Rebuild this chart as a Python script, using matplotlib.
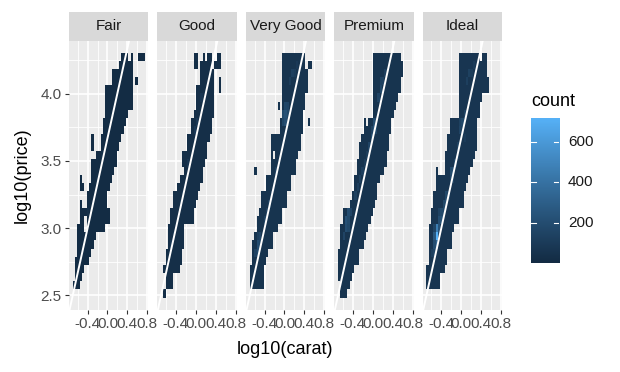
import numpy as np
import matplotlib
matplotlib.use("Agg")
import matplotlib.pyplot as plt
from matplotlib.colors import ListedColormap, Normalize

plt.rcParams['font.family'] = ['Liberation Sans', 'DejaVu Sans']

# ---------------- data ----------------
cuts = ["Fair", "Good", "Very Good", "Premium", "Ideal"]
x_ticks = [-0.4, 0.0, 0.4, 0.8]
x_tick_labels = ["-0.4", "0.0", "0.4", "0.8"]
x_minor = [-0.6, -0.2, 0.2, 0.6]
y_ticks = [2.5, 3.0, 3.5, 4.0]
y_tick_labels = ["2.5", "3.0", "3.5", "4.0"]
y_minor = [2.75, 3.25, 3.75, 4.25]
legend_ticks = [200, 400, 600]
legend_labels = ["200", "400", "600"]
count_range = [1, 717]

x_bin_start, x_bin_width, n_xbins = -0.70, 0.04667, 31
y_bin_start, y_bin_width, n_ybins = 2.484, 0.0607, 30
line_intercept, line_slope = 3.669, 1.676

# occupied bins: for each y-bin row (0 = bottom) a list of (first, last) x-bin runs
fair_rows = [
    [], [(0, 2)], [(1, 3)], [(1, 4)], [(1, 6)], [(2, 7)], [(2, 8)], [(2, 9)],
    [(2, 4), (6, 13)], [(3, 4), (6, 15)], [(3, 15)], [(3, 3), (6, 14)], [(6, 14)],
    [(3, 4), (7, 15)], [(3, 3), (8, 16)], [(8, 17)], [(8, 18)], [(10, 18)],
    [(8, 8), (12, 19)], [(8, 8), (12, 20)], [(13, 21)], [(13, 22)], [(14, 23)],
    [(14, 25)], [(14, 25)], [(14, 25)], [(17, 25), (27, 27)], [(17, 25)],
    [(20, 25)], [(21, 23), (25, 25), (28, 30)],
]
good_rows = [
    [(1, 1)], [(2, 4)], [(2, 4)], [(1, 7)], [(2, 8)], [(2, 8)], [(3, 9)], [(3, 9)],
    [(3, 9)], [(4, 13)], [(4, 13)], [(5, 14)], [(5, 15)], [(7, 16)], [(8, 17)],
    [(10, 17)], [(9, 18)], [(9, 19)], [(11, 19)], [(11, 20)], [(13, 21)], [(13, 21)],
    [(14, 22)], [(15, 22)], [(15, 22)], [(15, 22), (25, 25)], [(17, 22), (25, 25)],
    [(17, 22)], [(14, 15), (17, 21), (23, 25)], [(14, 15), (18, 18), (20, 21), (24, 25)],
]
verygood_rows = [
    [], [(0, 5)], [(0, 5)], [(0, 5)], [(1, 6)], [(1, 7)], [(1, 9)], [(2, 9)],
    [(3, 11)], [(3, 13)], [(4, 13)], [(5, 15)], [(5, 15)], [(7, 17)], [(7, 17)],
    [(2, 2), (9, 19)], [(9, 19)], [(9, 9), (11, 20)], [(9, 21)], [(9, 21)],
    [(13, 22)], [(13, 22), (25, 25)], [(14, 22)], [(12, 12), (14, 23)], [(14, 23)],
    [(14, 24)], [(14, 24)], [(14, 24)], [(14, 23), (25, 26)], [(14, 23)],
]
premium_rows = [
    [(1, 3)], [(1, 4)], [(0, 5)], [(0, 6)], [(0, 8)], [(0, 8)], [(1, 10)], [(1, 11)],
    [(1, 12)], [(2, 13)], [(2, 14)], [(5, 15)], [(6, 16)], [(7, 16)], [(7, 17)],
    [(8, 19)], [(8, 20)], [(9, 20)], [(9, 21)], [(10, 21)], [(11, 22)],
    [(11, 11), (13, 22)], [(15, 23)], [(15, 24)], [(15, 25)], [(15, 26)], [(15, 26)],
    [(15, 27)], [(15, 27)], [(15, 26)],
]
ideal_rows = [
    [], [(0, 5)], [(0, 5)], [(0, 7)], [(1, 8)], [(1, 8)], [(1, 10)], [(1, 10)],
    [(1, 11)], [(2, 13)], [(2, 13)], [(3, 15)], [(3, 15)], [(4, 16)], [(4, 17)],
    [(4, 4), (8, 18)], [(8, 19)], [(8, 20)], [(9, 21)], [(9, 21)], [(10, 21)],
    [(10, 21)], [(14, 22)], [(14, 22)], [(14, 23)], [(14, 26)], [(14, 26)],
    [(14, 25)], [(14, 25)], [(14, 22), (24, 25)],
]

# typical count of an occupied bin, and the denser bins (x-bin, y-bin, count)
base_counts = [8, 25, 55, 55, 65]
fair_hot = [(10, 14, 30), (12, 17, 30), (6, 10, 30)]
good_hot = [(15, 21, 80), (14, 20, 90), (4, 6, 80), (5, 7, 70), (8, 11, 80),
            (9, 12, 70), (17, 24, 70), (11, 16, 70)]
verygood_hot = [(14, 21, 160), (15, 21, 200), (16, 21, 150), (14, 22, 180), (15, 22, 220),
                (16, 22, 170), (15, 23, 160), (16, 23, 150),
                (2, 5, 140), (3, 5, 180), (3, 6, 200), (4, 6, 170), (4, 7, 150), (3, 7, 120),
                (17, 26, 110), (18, 27, 120), (19, 27, 100), (20, 28, 90),
                (8, 11, 130), (9, 12, 120), (10, 13, 110), (11, 15, 120), (12, 16, 110),
                (6, 9, 130), (7, 10, 120)]
premium_hot = [(13, 18, 150), (14, 19, 180), (15, 20, 220), (16, 20, 160), (15, 21, 200),
               (16, 21, 180), (14, 20, 140),
               (17, 24, 150), (18, 25, 170), (19, 26, 140), (20, 27, 120), (18, 26, 130),
               (2, 7, 150), (3, 8, 200), (4, 8, 170), (3, 9, 220), (4, 9, 180), (4, 10, 200),
               (5, 10, 150),
               (7, 12, 130), (8, 13, 120), (9, 14, 130), (10, 15, 120), (11, 16, 110),
               (12, 17, 110)]
ideal_hot = [(4, 7, 717), (4, 8, 460), (4, 6, 330), (3, 7, 260), (3, 6, 200), (5, 8, 230),
             (5, 7, 190), (3, 5, 150), (2, 5, 120), (5, 9, 200), (6, 9, 220), (6, 10, 180),
             (7, 10, 160), (5, 10, 140), (7, 11, 170), (8, 11, 200), (8, 12, 170),
             (9, 12, 150), (3, 8, 150),
             (10, 15, 180), (11, 15, 200), (12, 16, 160), (10, 14, 150), (11, 14, 140),
             (14, 20, 150), (15, 21, 170), (16, 22, 140), (14, 21, 130), (15, 20, 120),
             (17, 26, 120), (18, 27, 130), (19, 27, 110), (20, 28, 100),
             (13, 18, 130), (13, 17, 120), (16, 19, 100)]

facet_rows = [fair_rows, good_rows, verygood_rows, premium_rows, ideal_rows]
facet_hot = [fair_hot, good_hot, verygood_hot, premium_hot, ideal_hot]

# ---------------- colour scale (ggplot default, Lab interpolation) ----------------
M = np.array([[0.4124564, 0.3575761, 0.1804375],
              [0.2126729, 0.7151522, 0.0721750],
              [0.0193339, 0.1191920, 0.9503041]])
WP = np.array([0.95047, 1.0, 1.08883])


def hex_rgb(h):
    h = h.lstrip('#')
    return np.array([int(h[i:i + 2], 16) / 255 for i in (0, 2, 4)])


def srgb_to_lab(rgb):
    lin = np.where(rgb <= 0.04045, rgb / 12.92, ((rgb + 0.055) / 1.055) ** 2.4)
    t = (M @ lin) / WP
    d = 6 / 29
    f = np.where(t > d ** 3, np.cbrt(t), t / (3 * d * d) + 4 / 29)
    return np.array([116 * f[1] - 16, 500 * (f[0] - f[1]), 200 * (f[1] - f[2])])


def lab_to_srgb(lab):
    L, a, b = lab
    fy = (L + 16) / 116
    f = np.array([fy + a / 500, fy, fy - b / 200])
    d = 6 / 29
    t = np.where(f > d, f ** 3, 3 * d * d * (f - 4 / 29))
    lin = np.linalg.inv(M) @ (t * WP)
    lin = np.clip(lin, 0, 1)
    rgb = np.where(lin <= 0.0031308, 12.92 * lin, 1.055 * lin ** (1 / 2.4) - 0.055)
    return np.clip(rgb, 0, 1)


lab_lo = srgb_to_lab(hex_rgb("#132B43"))
lab_hi = srgb_to_lab(hex_rgb("#56B1F7"))
cols = [lab_to_srgb(lab_lo + (lab_hi - lab_lo) * s) for s in np.linspace(0, 1, 256)]
cmap = ListedColormap(cols)
norm = Normalize(vmin=count_range[0], vmax=count_range[1])

# ---------------- layout ----------------
W, H = 620, 372
fig = plt.figure(figsize=(W / 100, H / 100), dpi=100)


def px_axes(l, t, r, b):
    return fig.add_axes([l / W, 1 - b / H, (r - l) / W, (b - t) / H])


panel_lr = [(69, 148.3), (157.3, 236.7), (246, 325.3), (334.3, 413.7), (422.7, 502)]
panel_top, panel_bottom, strip_top = 40.7, 310, 11.7
xlim = (-0.772, 0.819)
ylim = (2.392, 4.394)

xedges = x_bin_start + x_bin_width * np.arange(n_xbins + 1)
yedges = y_bin_start + y_bin_width * np.arange(n_ybins + 1)

for i, cut in enumerate(cuts):
    l, r = panel_lr[i]
    ax = px_axes(l, panel_top, r, panel_bottom)
    ax.set_facecolor("#EBEBEB")
    for s in ax.spines.values():
        s.set_visible(False)
    ax.set_xlim(*xlim)
    ax.set_ylim(*ylim)
    for v in x_minor:
        ax.axvline(v, color="white", lw=0.6, zorder=0.5)
    for v in y_minor:
        ax.axhline(v, color="white", lw=0.6, zorder=0.5)
    for v in x_ticks:
        ax.axvline(v, color="white", lw=1.2, zorder=0.6)
    for v in y_ticks:
        ax.axhline(v, color="white", lw=1.2, zorder=0.6)

    grid = np.full((n_ybins, n_xbins), np.nan)
    for j, runs in enumerate(facet_rows[i]):
        for a, b in runs:
            grid[j, a:b + 1] = base_counts[i]
    for k, j, c in facet_hot[i]:
        grid[j, k] = c
    ax.pcolormesh(xedges, yedges, np.ma.masked_invalid(grid), cmap=cmap, norm=norm,
                  shading='flat', antialiased=False, linewidth=0, zorder=2)

    ax.axline((0, line_intercept), slope=line_slope, color="white", lw=1.4, zorder=3)

    ax.set_xticks(x_ticks)
    ax.set_xticklabels(x_tick_labels)
    if i == 0:
        ax.set_yticks(y_ticks)
        ax.set_yticklabels(y_tick_labels)
    else:
        ax.set_yticks([])
    ax.tick_params(length=3.2, width=0.8, color="#333333", labelcolor="#4D4D4D",
                   labelsize=11, pad=2.2)

    sax = px_axes(l, strip_top, r, panel_top)
    sax.set_facecolor("#D9D9D9")
    sax.set_xticks([])
    sax.set_yticks([])
    for s in sax.spines.values():
        s.set_visible(False)
    sax.text(0.5, 0.5, cut, ha="center", va="center", fontsize=11, color="#1A1A1A",
             transform=sax.transAxes)

fig.text(285.5 / W, 1 - 349 / H, "log10(carat)", ha="center", va="center", fontsize=13)
fig.text(22 / W, 1 - 175 / H, "log10(price)", ha="center", va="center", fontsize=13,
         rotation=90)

# legend
fig.text(531 / W, 1 - 101 / H, "count", ha="left", va="center", fontsize=13)
cax = px_axes(530.7, 118, 559.3, 263)
grad = np.linspace(count_range[0], count_range[1], 300).reshape(-1, 1)
cax.imshow(grad, aspect="auto", origin="lower", cmap=cmap, norm=norm,
           extent=[0, 1, count_range[0], count_range[1]])
cax.set_xlim(0, 1)
cax.set_ylim(*count_range)
cax.set_xticks([])
cax.set_yticks([])
for s in cax.spines.values():
    s.set_visible(False)
for v, lab in zip(legend_ticks, legend_labels):
    cax.plot([0, 0.18], [v, v], color="white", lw=0.8)
    cax.plot([0.82, 1], [v, v], color="white", lw=0.8)
    cax.text(1.3, v, lab, ha="left", va="center", fontsize=11, color="#1A1A1A",
             transform=cax.get_yaxis_transform())

fig.savefig("out.png", dpi=100)
